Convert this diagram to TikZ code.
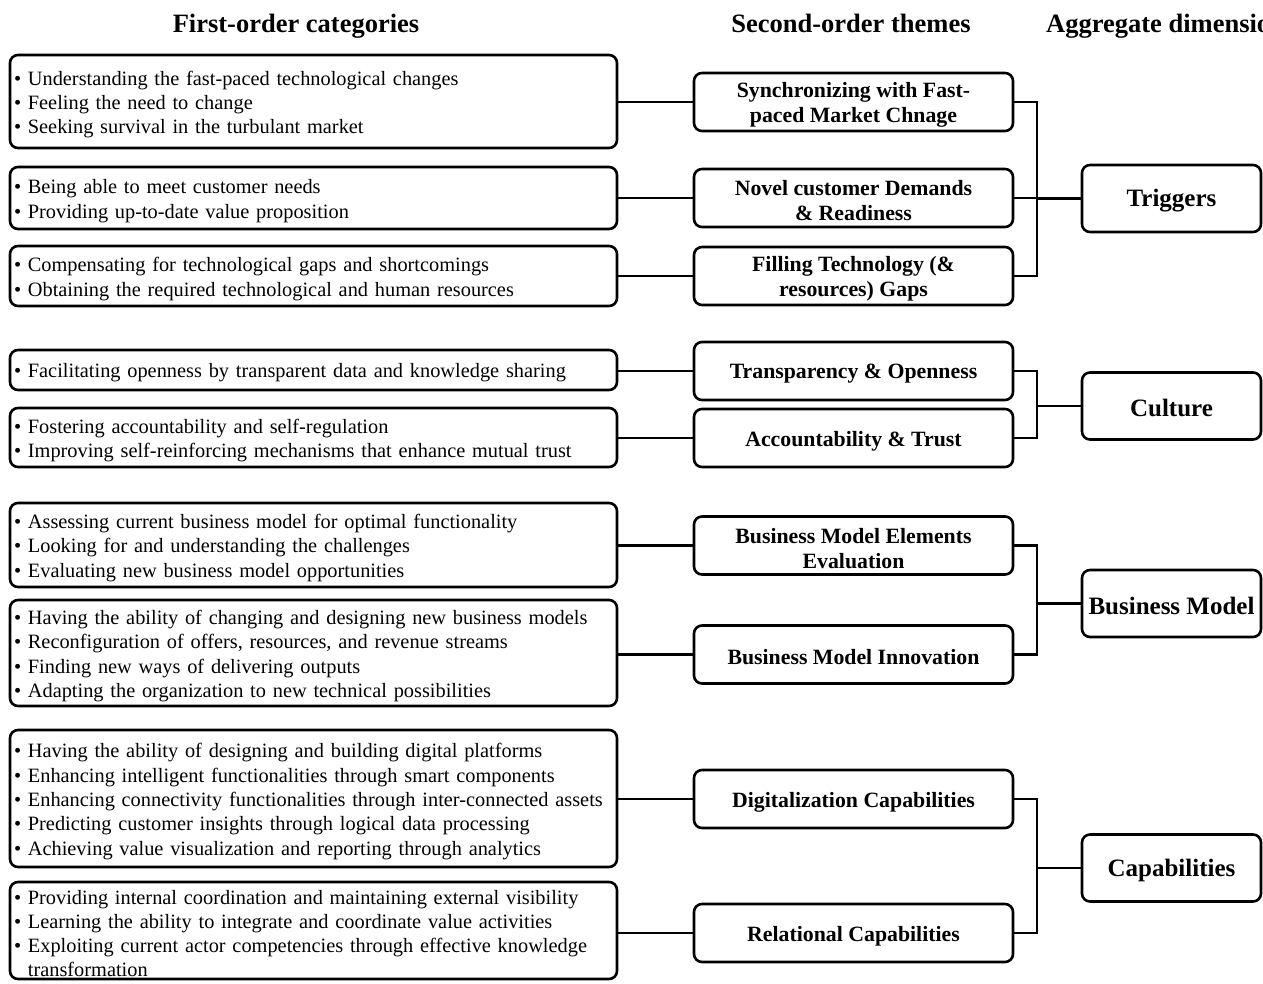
\documentclass[tikz,border=0pt]{standalone}
\usepackage{fontspec}
\setmainfont{Liberation Serif}
\newcommand{\bul}{\textbullet\ }
\newcommand{\firstbox}[4]{%
  \node[lbox, minimum height=#3] (L#1) at (313.5,#2) {};
  \node[ltext] (LT#1) at (313.5,{#2+3}) {#4};}
\newcommand{\secondbox}[3]{%
  \node[mbox] (M#1) at (853.5,#2) {};
  \node[mtext] (MT#1) at (853.5,{#2+3}) {#3};}
\newcommand{\aggbox}[3]{%
  \node[rbox] (R#1) at (1171.5,#2) {};
  \node[rtext] (RT#1) at (1171.5,{#2+2}) {#3};}
\begin{document}
\begin{tikzpicture}[x=1pt,y=-1pt,
 lbox/.style={draw, fill=white, line width=2.6pt, rounded corners=8pt, inner sep=0pt, minimum width=607pt},
 ltext/.style={inner xsep=4pt, inner ysep=0pt, align=left, text width=599pt, font=\fontsize{20.35}{24.3}\selectfont},
 mbox/.style={draw, fill=white, line width=2.6pt, rounded corners=8pt, inner sep=0pt, minimum width=319pt, minimum height=58pt},
 mtext/.style={inner sep=0pt, align=center, font=\bfseries\fontsize{21.8}{25}\selectfont},
 rbox/.style={draw, fill=white, line width=2.6pt, rounded corners=8pt, inner sep=0pt, minimum width=179pt, minimum height=67pt},
 rtext/.style={inner sep=0pt, font=\bfseries\fontsize{25}{30}\selectfont},
 hdr/.style={font=\bfseries\fontsize{26.5}{30}\selectfont, inner sep=0pt},
 conn/.style={line width=2.4pt}]
\useasboundingbox (0,0) rectangle (1263,983);

% headers
\node[hdr, anchor=base] (h1) at (296,32) {First-order categories};
\node[hdr, anchor=base] (h2) at (851,32) {Second-order themes};
\node[hdr, anchor=base west] (h3) at (1046,32) {Aggregate dimensions};

% first-order boxes
\firstbox{1}{101.5}{93pt}{\bul Understanding the fast-paced technological changes\\\bul Feeling the need to change\\\bul Seeking survival in the turbulant market}
\firstbox{2}{198}{62pt}{\bul Being able to meet customer needs\\\bul Providing up-to-date value proposition}
\firstbox{3}{276}{60pt}{\bul Compensating for technological gaps and shortcomings\\\bul Obtaining the required technological and human resources}
\firstbox{4}{370}{40pt}{\bul Facilitating openness by transparent data and knowledge sharing}
\firstbox{5}{437.5}{59pt}{\bul Fostering accountability and self-regulation\\\bul Improving self-reinforcing mechanisms that enhance mutual trust}
\firstbox{6}{545}{84pt}{\bul Assessing current business model for optimal functionality\\\bul Looking for and understanding the challenges\\\bul Evaluating new business model opportunities}
\firstbox{7}{653}{106pt}{\bul Having the ability of changing and designing new business models\\\bul Reconfiguration of offers, resources, and revenue streams\\\bul Finding new ways of delivering outputs\\\bul Adapting the organization to new technical possibilities}
\firstbox{8}{798.5}{137pt}{\bul Having the ability of designing and building digital platforms\\\bul Enhancing intelligent functionalities through smart components\\\bul Enhancing connectivity functionalities through inter-connected assets\\\bul Predicting customer insights through logical data processing\\\bul Achieving value visualization and reporting through analytics}
\firstbox{9}{930.5}{97pt}{\bul Providing internal coordination and maintaining external visibility\\\bul Learning the ability to integrate and coordinate value activities\\\bul Exploiting current actor competencies through effective knowledge\\\phantom{\textbullet\ }transformation}

% second-order boxes
\secondbox{1}{102}{Synchronizing with Fast-\\paced Market Chnage}
\secondbox{2}{198}{Novel customer Demands\\\& Readiness}
\secondbox{3}{276}{Filling Technology (\&\\resources) Gaps}
\secondbox{4}{371}{Transparency \& Openness}
\secondbox{5}{438}{Accountability \& Trust}
\secondbox{6}{545.5}{Business Model Elements\\Evaluation}
\secondbox{7}{654.5}{Business Model Innovation}
\secondbox{8}{799}{Digitalization Capabilities}
\secondbox{9}{933}{Relational Capabilities}

% aggregate boxes
\aggbox{1}{198.5}{Triggers}
\aggbox{2}{406}{Culture}
\aggbox{3}{603.5}{Business Model}
\aggbox{4}{868}{Capabilities}

% first -> second
\foreach \i in {1,...,9} {
  \draw[conn] (M\i.west) -- (M\i.west -| L\i.east);
}

% brackets
\coordinate (b1) at (1037,198.5);
\coordinate (b2) at (1037,406);
\coordinate (b3) at (1037,603.5);
\coordinate (b4) at (1037,868);
\draw[conn] (M1.east) -| (b1) |- (M3.east);
\draw[conn] (M2.east) -- (M2.east -| b1);
\draw[conn] (b1) -- (R1.west);
\draw[conn] (M4.east) -| (b2) |- (M5.east);
\draw[conn] (b2) -- (R2.west);
\draw[conn] (M6.east) -| (b3) |- (M7.east);
\draw[conn] (b3) -- (R3.west);
\draw[conn] (M8.east) -| (b4) |- (M9.east);
\draw[conn] (b4) -- (R4.west);
\end{tikzpicture}
\end{document}
